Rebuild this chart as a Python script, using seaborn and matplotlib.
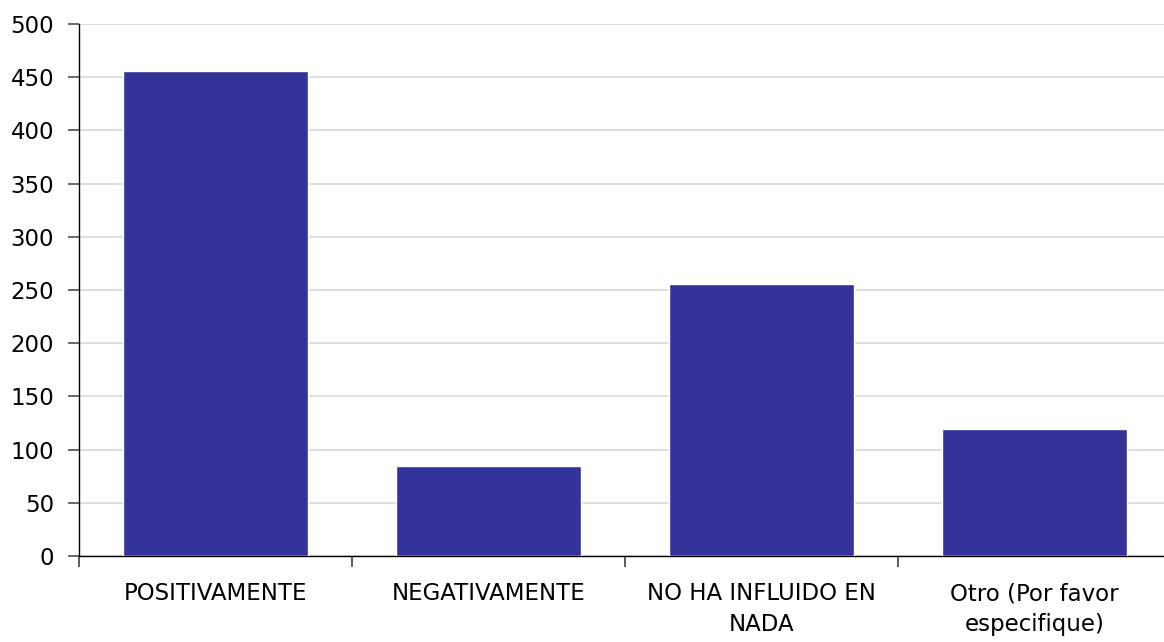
import matplotlib
matplotlib.use("Agg")
import matplotlib.pyplot as plt
import seaborn as sns
import pandas as pd

# === data ===
categorias = ["POSITIVAMENTE", "NEGATIVAMENTE", "NO HA INFLUIDO EN\nNADA", "Otro (Por favor\nespecifique)"]
valores = [456, 85, 256, 119]
y_ticks = [0, 50, 100, 150, 200, 250, 300, 350, 400, 450, 500]

df = pd.DataFrame({"categoria": categorias, "valor": valores})

sns.set_style("white")
plt.rcParams["font.family"] = ["DejaVu Sans"]
plt.rcParams["text.color"] = "black"
plt.rcParams["xtick.color"] = "black"
plt.rcParams["ytick.color"] = "black"

fig = plt.figure(figsize=(11.64, 6.42), dpi=100)
ax = fig.add_axes([0.0679, 0.134, 0.938, 0.8286])

sns.barplot(data=df, x="categoria", y="valor", color="#333399", saturation=1,
            width=0.675, ax=ax, zorder=3)

ax.set_ylim(0, 500)
ax.set_xlim(-0.5, 3.5)
ax.set_yticks(y_ticks)
ax.set_yticklabels([str(v) for v in y_ticks], fontsize=16.5)
ax.yaxis.grid(True, color="#d9d9d9", linewidth=1.2, zorder=0)
ax.set_axisbelow(True)

# x ticks between categories
ax.set_xticks([-0.5, 0.5, 1.5, 2.5, 3.5], minor=True)
ax.tick_params(axis="x", which="major", bottom=True, length=0, pad=19,
               labelsize=16.5, labelcolor="black")
ax.tick_params(axis="x", which="minor", bottom=True, length=8, color="#404040", width=1.2)
ax.tick_params(axis="y", left=True, length=8, color="#505050", width=1.2, pad=10,
               labelcolor="black")
for lbl in ax.get_xticklabels():
    lbl.set_linespacing(1.4)

for s in ["top", "right"]:
    ax.spines[s].set_visible(False)
ax.spines["left"].set_color("black")
ax.spines["bottom"].set_color("black")
ax.spines["left"].set_linewidth(1)
ax.spines["bottom"].set_linewidth(1)

ax.set_xlabel("")
ax.set_ylabel("")

fig.savefig("out.png", dpi=100)
